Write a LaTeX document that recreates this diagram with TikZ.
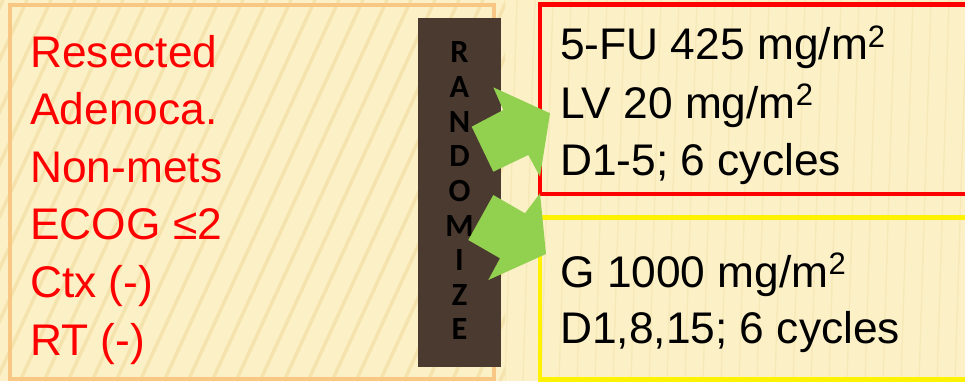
\documentclass[tikz,border=0pt]{standalone}
\usepackage{fontspec}
\usepackage{tikz}
\usepackage[]{xcolor}
\setmainfont{Liberation Sans}
\newfontfamily\randfont{Carlito}
\usetikzlibrary{positioning}
\definecolor{paper}{RGB}{252,240,199}
\definecolor{grain}{RGB}{240,218,155}
\definecolor{frame}{RGB}{247,199,131}
\definecolor{bark}{RGB}{75,58,47}
\definecolor{leaf}{RGB}{146,208,80}
\tikzset{crit/.style = {anchor=base west, inner sep=0, text=red, font=\fontsize{31.5}{41}\selectfont}}
\tikzset{dose/.style = {crit, text=black}}
\tikzset{letter/.style = {anchor=base, inner sep=0, font=\randfont\bfseries\fontsize{23}{28}\selectfont}}
\tikzset{bentarrow/.style = {fill=leaf}}

\begin{document}
\begin{tikzpicture}[x=0.025cm,y=-0.025cm]
        \useasboundingbox (0,0) rectangle (965,381);
        \fill [paper] (0,0) rectangle (965,381);
        % wood grain
        \begin{scope}
            \clip (0,0) rectangle (505,381);
            \foreach \s in {-220,-196,...,500}
                \draw [grain,line width=2.5pt,opacity=0.55] (\s,381) -- (\s+175,0);
        \end{scope}
        \begin{scope}
            \clip (505,0) rectangle (965,381);
            \foreach \s in {505,523,...,965}
                \draw [grain,line width=1pt,opacity=0.35] (\s,381) -- (\s+12,0);
        \end{scope}
        % criteria
        \draw [frame,line width=3pt] (10,5) rectangle (494,379);
        \node[crit] (Resected) at (30,67) {Resected};
        \node[crit] (Adenoca) at (30,124) {Adenoca.};
        \node[crit] (Nonmets) at (30,182) {Non-mets};
        \node[crit] (ECOG) at (30,239) {ECOG ≤2};
        \node[crit] (Ctx) at (30,297) {Ctx (-)};
        \node[crit] (RT) at (30,355) {RT (-)};
        % randomize bar
        \fill [bark] (418,18) rectangle (501,367);
        \foreach \l [count=\i from 0] in {R,A,N,D,O,M,I,Z,E}
            \node[letter] (rand\i) at (459.5,63+34.6*\i) {\l};
        % arms
        \draw [red,line width=3.5pt] (540,4.5) rectangle (975,194);
        \draw [yellow,line width=3.5pt] (540,217.5) rectangle (975,379.5);
        \node[dose] (FU) at (560,60) {5-FU 425 mg/m\textsuperscript{2}};
        \node[dose] (LV) at (560,118) {LV 20 mg/m\textsuperscript{2}};
        \node[dose] (FUdays) at (560,175) {D1-5; 6 cycles};
        \node[dose] (G) at (560,287) {G 1000 mg/m\textsuperscript{2}};
        \node[dose] (Gdays) at (560,343) {D1,8,15; 6 cycles};
        % arrows into the arms
        \fill [bentarrow] (471.7,126.7) -- (503.3,110) -- (493.3,87.3) -- (550,113.3)
            -- (540,176.7) -- (528.3,155) -- (493.3,171.7) -- cycle;
        \fill [bentarrow] (493.3,195) -- (525,213.3) -- (540,193.3) -- (546,254)
            -- (488.3,280) -- (500,258.3) -- (468.3,240) -- cycle;
    \end{tikzpicture}
\end{document}
